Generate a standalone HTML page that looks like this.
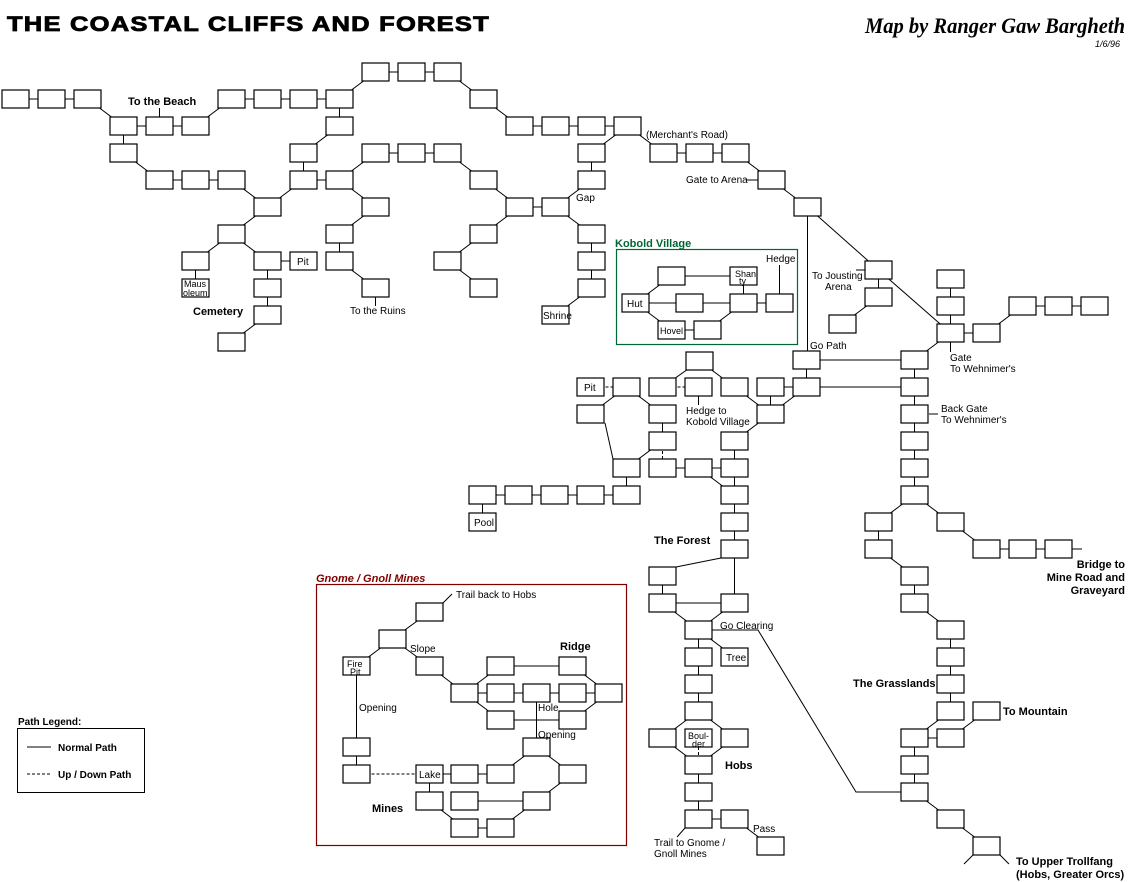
<!DOCTYPE html>
<html><head><meta charset="utf-8">
<style>
html,body{margin:0;padding:0;background:#fff;}
svg{display:block;}
text{font-family:"Liberation Sans",sans-serif;font-size:10px;fill:#000;}
.b{font-weight:bold;font-size:11px;}
</style></head><body>
<svg width="1130" height="882" viewBox="0 0 1130 882" xmlns="http://www.w3.org/2000/svg">
<rect width="1130" height="882" fill="#fff"/>
<text x="7" y="31" style="font-weight:bold;font-size:21px;letter-spacing:1px;stroke:#000;stroke-width:0.8" textLength="483" lengthAdjust="spacingAndGlyphs">THE COASTAL CLIFFS AND FOREST</text>
<text x="865" y="33" style="font-family:'Liberation Serif',serif;font-style:italic;font-weight:bold;font-size:22px" textLength="260" lengthAdjust="spacingAndGlyphs">Map by Ranger Gaw Bargheth</text>
<text x="1095" y="47" style="font-style:italic;font-size:9px">1/6/96</text>

<rect x="616.5" y="249.5" width="181" height="95" fill="none" stroke="#006633" stroke-width="1.2"/>
<text x="615" y="247" class="b" style="fill:#006633">Kobold Village</text>
<rect x="316.5" y="584.5" width="310" height="261" fill="none" stroke="#800000" stroke-width="1.2"/>
<text x="316" y="582" class="b" style="fill:#800000;font-style:italic">Gnome / Gnoll Mines</text>

<rect x="17.5" y="728.5" width="127" height="64" fill="none" stroke="#000" stroke-width="1"/>
<text x="18" y="725" class="b" style="font-size:10px">Path Legend:</text>
<line x1="27" y1="747" x2="51" y2="747" stroke="#000"/>
<text x="58" y="751" class="b" style="font-size:10px">Normal Path</text>
<line x1="27" y1="774" x2="51" y2="774" stroke="#000" stroke-dasharray="3,2"/>
<text x="58" y="778" class="b" style="font-size:10px">Up / Down Path</text>

<g fill="none" stroke="#000" stroke-width="1">
<path d="M15.5 99 L51.5 99 L87.5 99 L123.5 126 L159.5 126 L195.5 126 L231.5 99 L267.5 99 L303.5 99 L339.5 99 L375.5 72 L411.5 72 L447.5 72 L483.5 99 L519.5 126 L555.5 126 L591.5 126 L627.5 126 L663.5 153 L699.5 153 L735.5 153 L771.5 180 L807.5 207
M159.5 126 L159.5 108
M339.5 99 L339.5 126 L303.5 153 L303.5 180 L339.5 180 L375.5 153 L411.5 153 L447.5 153 L483.5 180 L519.5 207 L555.5 207 L591.5 180 L591.5 153 L627.5 126
M555.5 207 L591.5 234 L591.5 261 L591.5 288 L555.5 315
M519.5 207 L483.5 234 L447.5 261 L483.5 288
M339.5 180 L375.5 207 L339.5 234 L339.5 261 L375.5 288 L375.5 306
M123.5 126 L123.5 153 L159.5 180 L195.5 180 L231.5 180 L267.5 207 L303.5 180
M267.5 207 L231.5 234 L195.5 261 L195.5 288
M231.5 234 L267.5 261 L303.5 261
M267.5 261 L267.5 315 L231.5 342
M746 180 L758 180
M807.5 207 L807.5 360
M807.5 207 L878.5 270 L950.5 333
M856 270 L866 270
M878.5 270 L878.5 297 L842.5 324
M950.5 279 L950.5 333 L986.5 333 L1022.5 306 L1094.5 306
M950.5 333 L914.5 360
M950.5 342 L950.5 352
M806.5 360 L914.5 360 L914.5 495
M806.5 360 L806.5 387 L914.5 387
M770.5 387 L806.5 387 L770.5 414 L734.5 441
M770.5 387 L770.5 414
M662.5 387 L699.5 361 L734.5 387 L770.5 414
M698.5 396 L698.5 405
M626.5 387 L590.5 414
M626.5 387 L662.5 414 L662.5 441 L626.5 468
M605 423 L613 459
M626.5 468 L626.5 495 L482.5 495 L482.5 522
M662.5 468 L734.5 468
M698.5 468 L734.5 495
M734.5 441 L734.5 603
M721 558 L676 567
M662.5 576 L662.5 603 L734.5 603
M662.5 603 L698.5 630 L734.5 603
M698.5 630 L698.5 711
M698.5 630 L734.5 657
M712 630 L758 630 L856 792 L901 792
M698.5 711 L662.5 738 L698.5 765 L734.5 738 L698.5 711
M698.5 765 L698.5 819 L734.5 819 L770.5 846
M685 828 L677 837
M914.5 495 L878.5 522 L878.5 549 L914.5 576 L914.5 603 L950.5 630 L950.5 711 L914.5 738 L950.5 738 L986.5 711
M914.5 495 L950.5 522 L986.5 549 L1058.5 549
M1072 549 L1082 549
M914.5 738 L914.5 792 L950.5 819 L986.5 846
M973 855 L964 864
M1000 855 L1009 864
M635.5 303 L671.5 276 L743.5 276 L743.5 303
M635.5 303 L779.5 303 L779.5 265
M635.5 303 L671.5 330 L707.5 330 L743.5 303
M443 603 L452 594
M429.5 612 L392.5 639 L356.5 666 L356.5 774
M392.5 639 L429.5 666 L464.5 693 L500.5 666 L572.5 666 L608.5 693 L572.5 720 L500.5 720 L464.5 693 L608.5 693
M536.5 693 L536.5 747 L572.5 774 L536.5 801 L464.5 801
M536.5 747 L500.5 774 L429.5 774 L429.5 801 L464.5 828 L500.5 828 L536.5 801"/>
<path stroke-dasharray="3,2" d="M662.5 387 L698.5 387 M590.5 387 L626.5 387 M662.5 441 L662.5 468 M698.5 747 L698.5 756 M356.5 774 L429.5 774"/>
</g>

<g fill="#fff" stroke="#000" stroke-width="1.2">
<rect x="362" y="63" width="27" height="18"/><rect x="398" y="63" width="27" height="18"/><rect x="434" y="63" width="27" height="18"/>
<rect x="2" y="90" width="27" height="18"/><rect x="38" y="90" width="27" height="18"/><rect x="74" y="90" width="27" height="18"/><rect x="218" y="90" width="27" height="18"/><rect x="254" y="90" width="27" height="18"/><rect x="290" y="90" width="27" height="18"/><rect x="326" y="90" width="27" height="18"/><rect x="470" y="90" width="27" height="18"/>
<rect x="110" y="117" width="27" height="18"/><rect x="146" y="117" width="27" height="18"/><rect x="182" y="117" width="27" height="18"/><rect x="326" y="117" width="27" height="18"/><rect x="506" y="117" width="27" height="18"/><rect x="542" y="117" width="27" height="18"/><rect x="578" y="117" width="27" height="18"/><rect x="614" y="117" width="27" height="18"/>
<rect x="110" y="144" width="27" height="18"/><rect x="290" y="144" width="27" height="18"/><rect x="362" y="144" width="27" height="18"/><rect x="398" y="144" width="27" height="18"/><rect x="434" y="144" width="27" height="18"/><rect x="578" y="144" width="27" height="18"/><rect x="650" y="144" width="27" height="18"/><rect x="686" y="144" width="27" height="18"/><rect x="722" y="144" width="27" height="18"/>
<rect x="146" y="171" width="27" height="18"/><rect x="182" y="171" width="27" height="18"/><rect x="218" y="171" width="27" height="18"/><rect x="290" y="171" width="27" height="18"/><rect x="326" y="171" width="27" height="18"/><rect x="470" y="171" width="27" height="18"/><rect x="578" y="171" width="27" height="18"/><rect x="758" y="171" width="27" height="18"/>
<rect x="254" y="198" width="27" height="18"/><rect x="362" y="198" width="27" height="18"/><rect x="506" y="198" width="27" height="18"/><rect x="542" y="198" width="27" height="18"/><rect x="794" y="198" width="27" height="18"/>
<rect x="218" y="225" width="27" height="18"/><rect x="326" y="225" width="27" height="18"/><rect x="470" y="225" width="27" height="18"/><rect x="578" y="225" width="27" height="18"/>
<rect x="182" y="252" width="27" height="18"/><rect x="254" y="252" width="27" height="18"/><rect x="290" y="252" width="27" height="18"/><rect x="326" y="252" width="27" height="18"/><rect x="434" y="252" width="27" height="18"/><rect x="578" y="252" width="27" height="18"/>
<rect x="182" y="279" width="27" height="18"/><rect x="254" y="279" width="27" height="18"/><rect x="362" y="279" width="27" height="18"/><rect x="470" y="279" width="27" height="18"/><rect x="578" y="279" width="27" height="18"/>
<rect x="254" y="306" width="27" height="18"/><rect x="542" y="306" width="27" height="18"/>
<rect x="218" y="333" width="27" height="18"/>
<rect x="622" y="294" width="27" height="18"/><rect x="658" y="267" width="27" height="18"/><rect x="730" y="267" width="27" height="18"/><rect x="676" y="294" width="27" height="18"/><rect x="730" y="294" width="27" height="18"/><rect x="766" y="294" width="27" height="18"/><rect x="658" y="321" width="27" height="18"/><rect x="694" y="321" width="27" height="18"/>
<rect x="865" y="261" width="27" height="18"/><rect x="865" y="288" width="27" height="18"/><rect x="829" y="315" width="27" height="18"/>
<rect x="937" y="270" width="27" height="18"/><rect x="937" y="297" width="27" height="18"/><rect x="937" y="324" width="27" height="18"/><rect x="973" y="324" width="27" height="18"/><rect x="1009" y="297" width="27" height="18"/><rect x="1045" y="297" width="27" height="18"/><rect x="1081" y="297" width="27" height="18"/>
<rect x="793" y="351" width="27" height="18"/><rect x="901" y="351" width="27" height="18"/><rect x="686" y="352" width="27" height="18"/>
<rect x="577" y="378" width="27" height="18"/><rect x="613" y="378" width="27" height="18"/><rect x="649" y="378" width="27" height="18"/><rect x="685" y="378" width="27" height="18"/><rect x="721" y="378" width="27" height="18"/><rect x="757" y="378" width="27" height="18"/><rect x="793" y="378" width="27" height="18"/><rect x="901" y="378" width="27" height="18"/>
<rect x="577" y="405" width="27" height="18"/><rect x="649" y="405" width="27" height="18"/><rect x="757" y="405" width="27" height="18"/><rect x="901" y="405" width="27" height="18"/>
<rect x="649" y="432" width="27" height="18"/><rect x="721" y="432" width="27" height="18"/><rect x="901" y="432" width="27" height="18"/>
<rect x="613" y="459" width="27" height="18"/><rect x="649" y="459" width="27" height="18"/><rect x="685" y="459" width="27" height="18"/><rect x="721" y="459" width="27" height="18"/><rect x="901" y="459" width="27" height="18"/>
<rect x="469" y="486" width="27" height="18"/><rect x="505" y="486" width="27" height="18"/><rect x="541" y="486" width="27" height="18"/><rect x="577" y="486" width="27" height="18"/><rect x="613" y="486" width="27" height="18"/><rect x="721" y="486" width="27" height="18"/><rect x="901" y="486" width="27" height="18"/>
<rect x="469" y="513" width="27" height="18"/><rect x="721" y="513" width="27" height="18"/><rect x="865" y="513" width="27" height="18"/><rect x="937" y="513" width="27" height="18"/>
<rect x="721" y="540" width="27" height="18"/><rect x="865" y="540" width="27" height="18"/><rect x="973" y="540" width="27" height="18"/><rect x="1009" y="540" width="27" height="18"/><rect x="1045" y="540" width="27" height="18"/>
<rect x="649" y="567" width="27" height="18"/><rect x="901" y="567" width="27" height="18"/>
<rect x="649" y="594" width="27" height="18"/><rect x="721" y="594" width="27" height="18"/><rect x="901" y="594" width="27" height="18"/>
<rect x="685" y="621" width="27" height="18"/><rect x="937" y="621" width="27" height="18"/>
<rect x="685" y="648" width="27" height="18"/><rect x="721" y="648" width="27" height="18"/><rect x="937" y="648" width="27" height="18"/>
<rect x="685" y="675" width="27" height="18"/><rect x="937" y="675" width="27" height="18"/>
<rect x="685" y="702" width="27" height="18"/><rect x="937" y="702" width="27" height="18"/><rect x="973" y="702" width="27" height="18"/>
<rect x="649" y="729" width="27" height="18"/><rect x="685" y="729" width="27" height="18"/><rect x="721" y="729" width="27" height="18"/><rect x="901" y="729" width="27" height="18"/><rect x="937" y="729" width="27" height="18"/>
<rect x="685" y="756" width="27" height="18"/><rect x="901" y="756" width="27" height="18"/>
<rect x="685" y="783" width="27" height="18"/><rect x="901" y="783" width="27" height="18"/>
<rect x="685" y="810" width="27" height="18"/><rect x="721" y="810" width="27" height="18"/><rect x="937" y="810" width="27" height="18"/>
<rect x="757" y="837" width="27" height="18"/><rect x="973" y="837" width="27" height="18"/>
<rect x="416" y="603" width="27" height="18"/><rect x="379" y="630" width="27" height="18"/><rect x="343" y="657" width="27" height="18"/><rect x="416" y="657" width="27" height="18"/><rect x="487" y="657" width="27" height="18"/><rect x="559" y="657" width="27" height="18"/>
<rect x="451" y="684" width="27" height="18"/><rect x="487" y="684" width="27" height="18"/><rect x="523" y="684" width="27" height="18"/><rect x="559" y="684" width="27" height="18"/><rect x="595" y="684" width="27" height="18"/>
<rect x="487" y="711" width="27" height="18"/><rect x="559" y="711" width="27" height="18"/>
<rect x="343" y="738" width="27" height="18"/><rect x="523" y="738" width="27" height="18"/>
<rect x="343" y="765" width="27" height="18"/><rect x="416" y="765" width="27" height="18"/><rect x="451" y="765" width="27" height="18"/><rect x="487" y="765" width="27" height="18"/><rect x="559" y="765" width="27" height="18"/>
<rect x="416" y="792" width="27" height="18"/><rect x="451" y="792" width="27" height="18"/><rect x="523" y="792" width="27" height="18"/>
<rect x="451" y="819" width="27" height="18"/><rect x="487" y="819" width="27" height="18"/>
</g>

<text x="297" y="265">Pit</text>
<text x="184" y="287" style="font-size:9px">Maus</text><text x="183" y="296" style="font-size:9px">oleum</text>
<text x="543" y="319">Shrine</text>
<text x="627" y="307">Hut</text>
<text x="735" y="277" style="font-size:9px">Shan</text><text x="739" y="284" style="font-size:9px">ty</text>
<text x="660" y="334" style="font-size:9px">Hovel</text>
<text x="584" y="391">Pit</text>
<text x="474" y="526">Pool</text>
<text x="726" y="661">Tree</text>
<text x="688" y="739" style="font-size:9px">Boul-</text><text x="692" y="747" style="font-size:9px">der</text>
<text x="347" y="667" style="font-size:9px">Fire</text><text x="350" y="675" style="font-size:9px">Pit</text>
<text x="419" y="778">Lake</text>

<text x="128" y="105" class="b">To the Beach</text>
<text x="646" y="138">(Merchant's Road)</text>
<text x="686" y="183">Gate to Arena</text>
<text x="576" y="201">Gap</text>
<text x="766" y="262">Hedge</text>
<text x="812" y="279">To Jousting</text><text x="825" y="290">Arena</text>
<text x="810" y="349">Go Path</text>
<text x="950" y="361">Gate</text><text x="950" y="372">To Wehnimer's</text>
<line x1="929" y1="414" x2="938" y2="414" stroke="#000"/>
<text x="941" y="412">Back Gate</text><text x="941" y="423">To Wehnimer's</text>
<text x="686" y="414">Hedge to</text><text x="686" y="425">Kobold Village</text>
<text x="193" y="315" class="b">Cemetery</text>
<text x="350" y="314">To the Ruins</text>
<text x="654" y="544" class="b">The Forest</text>
<text x="1125" y="568" class="b" text-anchor="end">Bridge to</text>
<text x="1125" y="581" class="b" text-anchor="end">Mine Road and</text>
<text x="1125" y="594" class="b" text-anchor="end">Graveyard</text>
<text x="720" y="629">Go Clearing</text>
<text x="853" y="687" class="b">The Grasslands</text>
<text x="1003" y="715" class="b">To Mountain</text>
<text x="725" y="769" class="b">Hobs</text>
<text x="753" y="832">Pass</text>
<text x="654" y="846">Trail to Gnome /</text><text x="654" y="857">Gnoll Mines</text>
<text x="1016" y="865" class="b">To Upper Trollfang</text>
<text x="1016" y="878" class="b">(Hobs, Greater Orcs)</text>
<text x="456" y="598">Trail back to Hobs</text>
<text x="410" y="652">Slope</text>
<text x="560" y="650" class="b">Ridge</text>
<text x="359" y="711">Opening</text>
<text x="538" y="711">Hole</text>
<text x="538" y="738">Opening</text>
<text x="372" y="812" class="b">Mines</text>
</svg>
</body></html>
